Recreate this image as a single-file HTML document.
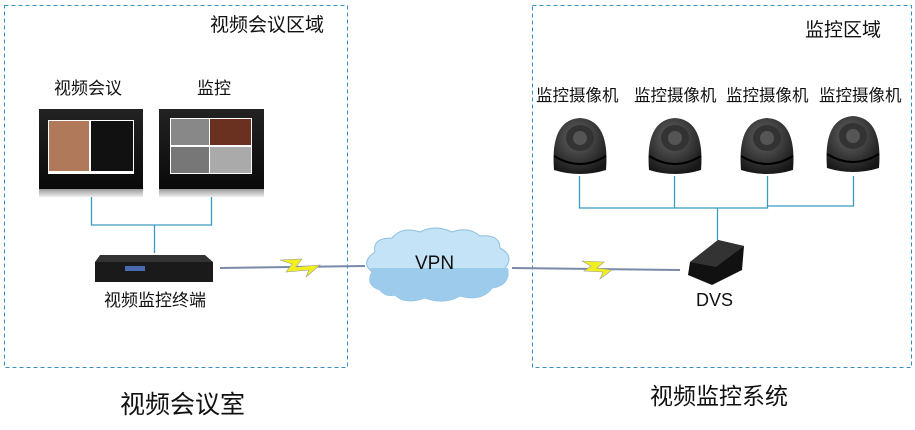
<!DOCTYPE html>
<html><head><meta charset="utf-8"><style>
body{margin:0;background:#fff;width:915px;height:425px;overflow:hidden}
text{font-family:"Liberation Sans","Noto Sans CJK SC",sans-serif;fill:#111}
</style></head><body>
<svg width="915" height="425" viewBox="0 0 915 425">
<defs>
<linearGradient id="scr" x1="0" y1="0" x2="0" y2="1"><stop offset="0" stop-color="#222"/><stop offset="1" stop-color="#0a0a0a"/></linearGradient>
<linearGradient id="base" x1="0" y1="0" x2="0" y2="1"><stop offset="0" stop-color="#999"/><stop offset="1" stop-color="#eee"/></linearGradient>
<radialGradient id="cam" cx="0.45" cy="0.35" r="0.7"><stop offset="0" stop-color="#666"/><stop offset="1" stop-color="#151515"/></radialGradient>
<g id="camera">
<path d="M-26,22 Q-30,-28 0,-30 Q30,-28 26,22 Q0,30 -26,22Z" fill="url(#cam)"/>
<ellipse cx="0" cy="-10" rx="14" ry="13" fill="#333"/>
<circle cx="0" cy="-10" r="7" fill="#555"/>
<path d="M-26,8 Q0,24 26,8" stroke="#000" stroke-width="2" fill="none"/>
</g>
</defs>
<rect x="4.5" y="5.5" width="343" height="362" fill="none" stroke="#3a8fc0" stroke-dasharray="4,3"/>
<rect x="532.5" y="5.5" width="379" height="362" fill="none" stroke="#3a8fc0" stroke-dasharray="4,3"/>
<text x="210" y="31" font-size="19">视频会议区域</text>
<text x="805" y="36" font-size="19">监控区域</text>
<text x="54" y="94" font-size="17">视频会议</text>
<text x="197" y="94" font-size="17">监控</text>
<rect x="39" y="109" width="104" height="80" fill="url(#scr)"/>
<rect x="39" y="189" width="104" height="8" fill="url(#base)"/>
<rect x="48" y="120" width="86" height="54" fill="#fff"/>
<rect x="49" y="121" width="40" height="50" fill="#b07a5a"/>
<rect x="91" y="121" width="42" height="50" fill="#111"/>
<rect x="159" y="109" width="105" height="80" fill="url(#scr)"/>
<rect x="159" y="189" width="105" height="8" fill="url(#base)"/>
<rect x="170" y="118" width="82" height="56" fill="#fff"/>
<rect x="171" y="119" width="38" height="26" fill="#888"/>
<rect x="210" y="119" width="41" height="26" fill="#6a3020"/>
<rect x="171" y="147" width="38" height="26" fill="#777"/>
<rect x="210" y="147" width="41" height="26" fill="#aaa"/>
<path d="M91.5,197 V225 H211.5 V197 M154.5,225 V253" stroke="#3a9bc0" stroke-width="1.3" fill="none"/>
<path d="M100,255 H205 L213,262 H95Z" fill="#333"/>
<rect x="95" y="262" width="118" height="20" fill="#1a1a1a"/>
<rect x="125" y="266" width="20" height="5" fill="#4a6ab0"/>
<text x="104" y="306" font-size="17">视频监控终端</text>
<line x1="220" y1="268" x2="365" y2="266" stroke="#7a8aa8" stroke-width="2"/>
<path d="M280,260 L302,259 L296,267 L320,265 L306,277 L309,270 L286,272 L292,264 Z" fill="#f2ef20" stroke="#999" stroke-width="0.6"/>
<path d="M380,290 Q365,285 372,272 Q360,262 375,252 Q372,238 392,238 Q402,226 420,232 Q435,224 452,232 Q468,226 480,236 Q500,234 500,248 Q515,256 505,268 Q512,285 492,288 Q482,302 460,296 Q445,305 425,298 Q405,305 395,295 Q385,297 380,290Z" fill="#c4e3f7" stroke="#8cc0e0"/>
<path d="M370,268 L508,268 Q512,285 492,288 Q482,302 460,296 Q445,305 425,298 Q405,305 395,295 Q385,297 380,290 Q365,285 372,272Z" fill="#9ccbec"/>
<text x="415" y="269" font-size="19">VPN</text>
<line x1="512" y1="268" x2="680" y2="270" stroke="#7a8aa8" stroke-width="2"/>
<path d="M582,261 L604,262 L597,268 L612,270 L600,279 L603,272 L584,271 L591,266Z" fill="#f2ef20" stroke="#999" stroke-width="0.6"/>
<path d="M690,262 L718,240 L744,246 L742,270 L712,285 L688,275Z" fill="#111"/>
<path d="M690,262 L718,240 L744,246 L716,267Z" fill="#333"/>
<text x="696" y="306" font-size="18">DVS</text>
<text x="536" y="101" font-size="16.5">监控摄像机</text>
<text x="634" y="101" font-size="16.5">监控摄像机</text>
<text x="726" y="101" font-size="16.5">监控摄像机</text>
<text x="819" y="101" font-size="16.5">监控摄像机</text>
<use href="#camera" x="580" y="148"/>
<use href="#camera" x="675" y="148"/>
<use href="#camera" x="767" y="148"/>
<use href="#camera" x="853" y="146"/>
<path d="M579.5,176 V208 H767.5 V176 M674.5,176 V208 M717.5,208 V240 M767.5,206 H853.5 V176" stroke="#3a9bc0" stroke-width="1.3" fill="none"/>
<text x="120" y="413" font-size="25">视频会议室</text>
<text x="650" y="404" font-size="23">视频监控系统</text>
</svg>
</body></html>
